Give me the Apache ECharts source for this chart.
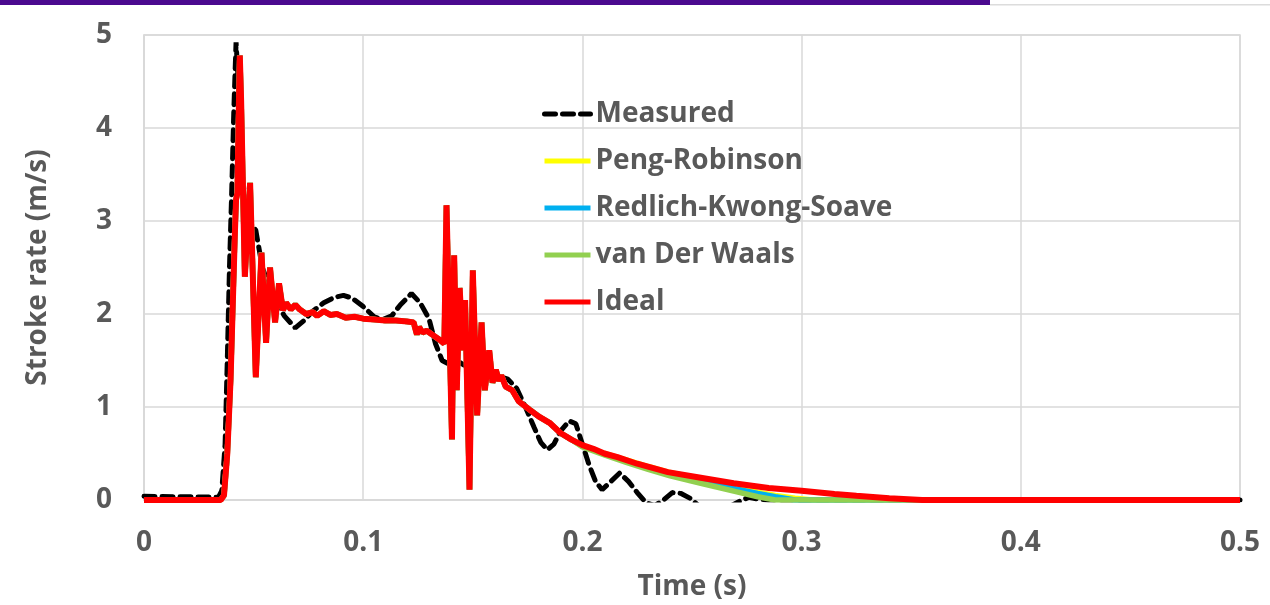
<!DOCTYPE html>
<html>
<head>
<meta charset="utf-8">
<title>Stroke rate</title>
<script src="https://cdn.jsdelivr.net/npm/echarts@6/dist/echarts.min.js"></script>
<style>
    html, body { margin: 0; padding: 0; background: #fff; }
    #chart { width: 1270px; height: 605px; }
</style>
</head>
<body>
<div id="chart"></div>
<script>
// 测量值 (时间 s / 速度 m/s)
var measuredTime = [0, 0.034, 0.0355, 0.037, 0.038, 0.039, 0.040, 0.041, 0.042, 0.043, 0.044, 0.046, 0.048, 0.051, 0.054, 0.057,
    0.060, 0.064, 0.069, 0.073, 0.077, 0.082, 0.087, 0.091, 0.095, 0.100, 0.105, 0.109, 0.113, 0.117, 0.122, 0.126,
    0.130, 0.133, 0.136, 0.140, 0.144, 0.148, 0.152, 0.157, 0.162, 0.166, 0.170, 0.174, 0.178, 0.181, 0.184, 0.187,
    0.190, 0.194, 0.197, 0.200, 0.203, 0.206, 0.209, 0.213, 0.217, 0.221, 0.225, 0.229, 0.233, 0.237, 0.241, 0.245,
    0.249, 0.253, 0.260, 0.268, 0.272, 0.276, 0.280, 0.285, 0.500]
var measuredRate = [0.04, 0.03, 0.1, 0.6, 1.5, 2.5, 3.3, 4.2, 4.92, 4.5, 3.8, 3.2, 3.0, 2.9, 2.5, 2.3,
    2.15, 1.98, 1.85, 1.93, 2.03, 2.12, 2.18, 2.2, 2.17, 2.08, 1.97, 1.94, 1.98, 2.1, 2.22, 2.12,
    1.95, 1.68, 1.5, 1.45, 1.48, 1.42, 1.36, 1.3, 1.33, 1.3, 1.2, 1.0, 0.78, 0.62, 0.54, 0.6,
    0.74, 0.85, 0.82, 0.6, 0.38, 0.2, 0.11, 0.2, 0.29, 0.2, 0.08, -0.03, -0.06, 0.0, 0.08, 0.07,
    0.02, -0.06, -0.1, -0.06, -0.01, 0.03, 0.01, 0, 0]

// 理想气体模型
var idealTime = [0, 0.035, 0.0365, 0.038, 0.0395, 0.0405, 0.0415, 0.042, 0.0426, 0.0431, 0.0437, 0.0443, 0.046, 0.0484,
    0.051, 0.0536, 0.0557, 0.0575, 0.0598, 0.0616, 0.0634, 0.0648, 0.067, 0.069, 0.071, 0.074, 0.077, 0.079,
    0.082, 0.085, 0.088, 0.092, 0.096, 0.100, 0.105, 0.110, 0.115, 0.120, 0.123, 0.1245, 0.1255, 0.127, 0.129,
    0.132, 0.135, 0.137, 0.138, 0.1405, 0.1415, 0.1427, 0.144, 0.1455, 0.1465, 0.1485, 0.150, 0.152, 0.154,
    0.1555, 0.1575, 0.159, 0.1605, 0.162, 0.163, 0.165, 0.168, 0.171, 0.176, 0.180, 0.185, 0.190, 0.195,
    0.200, 0.205, 0.210, 0.216, 0.225, 0.239, 0.254, 0.269, 0.285, 0.300, 0.315, 0.325, 0.340, 0.355, 0.500]
var idealRate = [0, 0, 0.05, 0.5, 1.3, 2.1, 2.9, 3.23, 3.3, 4.0, 4.78, 4.3, 2.4, 3.41,
    1.32, 2.66, 1.69, 2.5, 1.91, 2.33, 2.04, 2.12, 2.05, 2.1, 2.05, 2.0, 2.02, 1.98,
    2.03, 1.99, 2.0, 1.96, 1.97, 1.95, 1.94, 1.93, 1.93, 1.92, 1.91, 1.78, 1.86, 1.8, 1.82,
    1.77, 1.72, 1.68, 3.17, 0.65, 2.63, 1.18, 2.28, 1.61, 2.15, 0.11, 2.47, 0.91, 1.91,
    1.18, 1.61, 1.26, 1.4, 1.28, 1.34, 1.22, 1.18, 1.06, 0.97, 0.9, 0.83, 0.72, 0.65,
    0.59, 0.55, 0.5, 0.46, 0.39, 0.3, 0.24, 0.18, 0.13, 0.1, 0.065, 0.045, 0.02, 0, 0]

// 实际气体模型只在尾段与理想模型不同
var tailTime = [0.200, 0.210, 0.220, 0.230, 0.240, 0.254, 0.270, 0.280, 0.288, 0.297, 0.305, 0.500]
var pengTail = [0.585, 0.5, 0.43, 0.36, 0.295, 0.225, 0.135, 0.085, 0.05, 0.02, 0, 0]
var rksTail = [0.58, 0.495, 0.42, 0.35, 0.285, 0.21, 0.12, 0.07, 0.035, 0, 0, 0]
var vdwTail = [0.57, 0.485, 0.405, 0.33, 0.26, 0.18, 0.09, 0.035, 0, 0, 0, 0]

var seriesNames = ['Measured', 'Peng-Robinson', 'Redlich-Kwong-Soave', 'van Der Waals', 'Ideal']
var seriesColors = ['#000000', '#ffff00', '#00b0f0', '#92d050', '#ff0000']
var xTicks = [0, 0.1, 0.2, 0.3, 0.4, 0.5]

;
(function () {
    var font = "'Open Sans', sans-serif"
    var textGray = '#595959'
    var gridGray = '#d9d9d9'
    var dash = [11, 7]

    function pairs(ts, vs) { // 拼成 [t, v]
        return ts.map(function (t, i) {
            return [t, vs[i]]
        })
    }

    function withTail(tail) { // 前段取理想模型，尾段用各自数据
        var head = []
        for (var i = 0; i < idealTime.length; i++) {
            if (idealTime[i] < tailTime[0]) {
                head.push([idealTime[i], idealRate[i]])
            }
        }
        return head.concat(pairs(tailTime, tail))
    }

    function lineSeries(idx, data, width) {
        return {
            name: seriesNames[idx],
            type: 'line',
            data: data,
            symbol: 'none',
            smooth: false,
            animation: false,
            lineStyle: { color: seriesColors[idx], width: width },
            itemStyle: { color: seriesColors[idx] },
        }
    }

    var measured = lineSeries(0, pairs(measuredTime, measuredRate), 5)
    measured.lineStyle.type = dash
    measured.lineStyle.cap = 'round'

    // 图例只画线段，不画圆点
    var legendData = seriesNames.map(function (name, i) {
        return {
            name: name,
            itemStyle: { color: 'rgba(0,0,0,0)', borderWidth: 0 },
            lineStyle: { color: seriesColors[i], width: 5, type: i === 0 ? dash : 'solid' },
        }
    })

    var chart = echarts.init(document.getElementById('chart'))
    var option = {
        backgroundColor: '#fff',
        animation: false,
        graphic: [
            { type: 'rect', shape: { x: 0, y: 0, width: 990, height: 5 }, style: { fill: '#4b0a8f' } },
            { type: 'rect', shape: { x: 990, y: 4, width: 280, height: 1.5 }, style: { fill: '#dcdcdc' } },
        ],
        grid: {
            left: 144,
            right: 30,
            top: 35,
            bottom: 105,
            outerBoundsMode: 'none',
            show: true,
            borderColor: gridGray,
            borderWidth: 1.5,
        },
        legend: {
            orient: 'vertical',
            left: 537,
            top: 94,
            itemWidth: 46,
            itemHeight: 14,
            itemGap: 17,
            data: legendData,
            textStyle: { fontFamily: font, fontWeight: 'bold', fontSize: 28, color: textGray, lineHeight: 30 },
        },
        xAxis: {
            type: 'value',
            min: xTicks[0],
            max: xTicks[xTicks.length - 1],
            interval: 0.1,
            name: 'Time (s)',
            nameLocation: 'middle',
            nameGap: 73,
            nameTextStyle: { fontFamily: font, fontWeight: 'bold', fontSize: 28, color: textGray },
            axisLine: { lineStyle: { color: gridGray, width: 1.5 } },
            axisTick: { show: false },
            axisLabel: { margin: 29, fontFamily: font, fontWeight: 'bold', fontSize: 28, color: textGray },
            splitLine: { lineStyle: { color: gridGray, width: 1.5 } },
        },
        yAxis: {
            type: 'value',
            min: 0,
            max: 5,
            interval: 1,
            name: 'Stroke rate (m/s)',
            nameLocation: 'middle',
            nameGap: 92,
            nameTextStyle: { fontFamily: font, fontWeight: 'bold', fontSize: 28, color: textGray },
            axisLine: { show: true, lineStyle: { color: gridGray, width: 1.5 } },
            axisTick: { show: false },
            axisLabel: { margin: 32, fontFamily: font, fontWeight: 'bold', fontSize: 28, color: textGray },
            splitLine: { lineStyle: { color: gridGray, width: 1.5 } },
        },
        series: [
            measured,
            lineSeries(1, withTail(pengTail), 5.5),
            lineSeries(2, withTail(rksTail), 5.5),
            lineSeries(3, withTail(vdwTail), 5.5),
            lineSeries(4, pairs(idealTime, idealRate), 6),
        ],
    }
    chart.setOption(option)
}())
</script>
</body>
</html>
